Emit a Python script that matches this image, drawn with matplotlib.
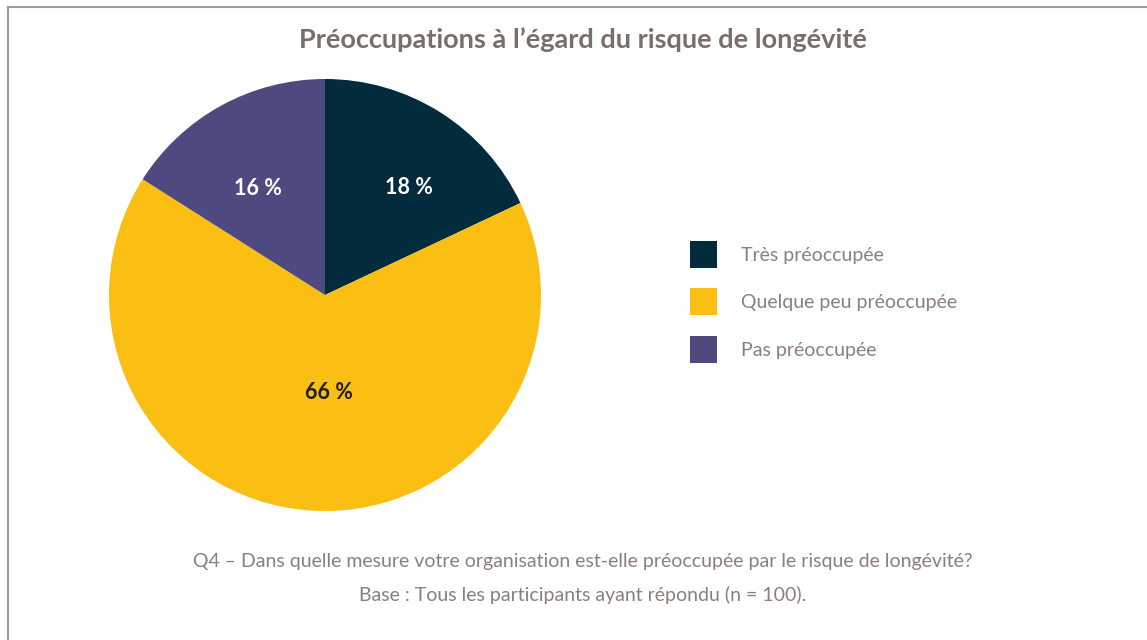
import math
import matplotlib
matplotlib.use("Agg")
import matplotlib.pyplot as plt
from matplotlib.lines import Line2D

plt.rcParams['font.family'] = ['Lato', 'DejaVu Sans']

titre = "Préoccupations à l’égard du risque de longévité"
categories = ["Très préoccupée", "Quelque peu préoccupée", "Pas préoccupée"]
valeurs = [18, 66, 16]
couleurs = ["#022b3b", "#fbbe13", "#4e4a80"]
couleurs_txt = ["white", "#1e1e1e", "white"]
note1 = "Q4 – Dans quelle mesure votre organisation est-elle préoccupée par le risque de longévité?"
note2 = "Base : Tous les participants ayant répondu (n = 100)."

gris = "#8a7f7a"
W, H = 1147, 640
fig = plt.figure(figsize=(W / 100, H / 100), dpi=100)

# cadre gauche et haut
fig.add_artist(Line2D([8 / W, 8 / W], [0, 1 - 7 / H], color="#a19a95", lw=1.5))
fig.add_artist(Line2D([8 / W, 1], [1 - 7 / H, 1 - 7 / H], color="#a19a95", lw=1.5))

# camembert : centre (325, 295), rayon 216 px
cx, cy, r = 325, 295, 216
ax = fig.add_axes([(cx - r) / W, (H - cy - r) / H, 2 * r / W, 2 * r / H])
wedges, _ = ax.pie(valeurs, colors=couleurs, startangle=90, counterclock=False,
                   radius=1, wedgeprops=dict(linewidth=0))
ax.set_xlim(-1, 1)
ax.set_ylim(-1, 1)
ax.set_aspect("equal")
ax.axis("off")

# étiquettes (distance au centre, décalage d'angle en degrés)
reglages = [(0.64, -5), (0.44, 6), (0.59, 3)]
for v, c, w, (d, da) in zip(valeurs, couleurs_txt, wedges, reglages):
    ang = math.radians((w.theta1 + w.theta2) / 2 + da)
    ax.text(d * math.cos(ang), d * math.sin(ang) - 0.01, f"{v} %", ha="center", va="center",
            fontsize=15.5, fontweight="bold", color=c)

fig.text(583 / W, 1 - 40 / H, titre, ha="center", va="center", fontsize=19.5,
         fontweight="bold", color="#7a6e69")

fig.legend(wedges, categories, loc="upper left", bbox_to_anchor=(690 / W, 1 - 241 / H),
           frameon=False, fontsize=14, handlelength=1.39, handleheight=1.76,
           labelspacing=1.05, handletextpad=1.23, labelcolor=gris, borderaxespad=0,
           borderpad=0)

fig.text(583 / W, 1 - 562 / H, note1, ha="center", va="center", fontsize=14, color=gris)
fig.text(583 / W, 1 - 595 / H, note2, ha="center", va="center", fontsize=14, color=gris)

fig.savefig("out.png", dpi=100, facecolor="white")
